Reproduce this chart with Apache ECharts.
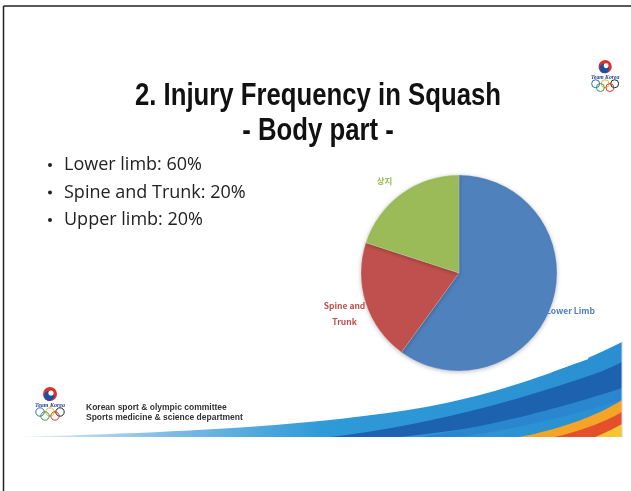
<!DOCTYPE html>
<html>
<head>
<meta charset="utf-8">
<script src="https://cdn.jsdelivr.net/npm/echarts@6/dist/echarts.min.js"></script>
<style>
html,body{margin:0;padding:0;background:#fff;}
#c{width:631px;height:491px;}
</style>
</head>
<body>
<div id="c"></div>
<script>
// ---- data ----
const categories = ['Lower Limb', 'Spine and\nTrunk', '상지'];
const values = [60, 20, 20];
const titleLines = ['2. Injury Frequency in Squash', '- Body part -'];
const bullets = ['Lower limb: 60%', 'Spine and Trunk: 20%', 'Upper limb: 20%'];
const footerLines = ['Korean sport & olympic committee', 'Sports medicine & science department'];

// ---- styles ----
const sliceColors = ['#4F81BD', '#C0504D', '#9BBB59'];
const labelOffsets = [[-1, 3], [-2, 6], [-3, -1]];

const chart = echarts.init(document.getElementById('c'));

// sample a simple "M x,y C ... L ... Z" path into polygon points
function pathPoints(d) {
  const tok = d.replace(/([MCLZ])/g, ' $1 ').replace(/,/g, ' ').trim().split(/\s+/);
  const pts = [];
  let i = 0, cmd = null, cx = 0, cy = 0;
  while (i < tok.length) {
    const t = tok[i];
    if (/^[MCLZ]$/.test(t)) { cmd = t; i++; if (t === 'Z') break; continue; }
    if (cmd === 'M' || cmd === 'L') {
      cx = +tok[i]; cy = +tok[i + 1]; pts.push([cx, cy]); i += 2;
    } else if (cmd === 'C') {
      const x1 = +tok[i], y1 = +tok[i + 1], x2 = +tok[i + 2], y2 = +tok[i + 3], x3 = +tok[i + 4], y3 = +tok[i + 5];
      for (let k = 1; k <= 24; k++) {
        const s = k / 24, u = 1 - s;
        pts.push([u*u*u*cx + 3*u*u*s*x1 + 3*u*s*s*x2 + s*s*s*x3, u*u*u*cy + 3*u*u*s*y1 + 3*u*s*s*y2 + s*s*s*y3]);
      }
      cx = x3; cy = y3; i += 6;
    } else { i++; }
  }
  return pts;
}
function shape(d, style) { return {type:'polygon', shape:{points: pathPoints(d)}, style: style, silent:true}; }

function logo(x, y, s) {
  const ringCols = ['#2a6fc0', '#f2b822', '#222', '#3a9b45', '#d63a2e'];
  const els = [];
  els.push({type:'circle', shape:{cx:x+17*s, cy:y+7*s, r:7*s}, style:{fill:'#d8322f'}});
  els.push({type:'circle', shape:{cx:x+16*s, cy:y+9*s, r:5*s}, style:{fill:'#1f4fa0'}});
  els.push({type:'circle', shape:{cx:x+18*s, cy:y+6*s, r:2.6*s}, style:{fill:'#fff'}});
  els.push({type:'text', style:{x:x+17*s, y:y+18*s, text:'Team Korea', fill:'#1f3f8f', font:'italic bold '+(6*s)+'px "Liberation Serif"', align:'center', verticalAlign:'middle'}});
  const rx = [x+7*s, x+17*s, x+27*s, x+12*s, x+22*s];
  const ry = [y+25*s, y+25*s, y+25*s, y+29*s, y+29*s];
  for (let i = 0; i < 5; i++) {
    els.push({type:'circle', shape:{cx:rx[i], cy:ry[i], r:4.2*s}, style:{fill:'none', stroke:ringCols[i], lineWidth:1}});
  }
  return els;
}

const titleFont = 'bold 31px "Liberation Sans", Arial, sans-serif';
const graphic = [
  // frame
  {type:'line', shape:{x1:3.5, y1:6, x2:631, y2:6}, style:{stroke:'#222', lineWidth:1.5}},
  {type:'line', shape:{x1:3.5, y1:6, x2:3.5, y2:491}, style:{stroke:'#222', lineWidth:1.5}},
  // title (narrowed)
  {type:'text', x:318, y:96, scaleX:0.83, style:{x:0, y:0, text:titleLines[0], fill:'#111', font:titleFont, align:'center', verticalAlign:'middle'}},
  {type:'text', x:318, y:131, scaleX:0.83, style:{x:0, y:0, text:titleLines[1], fill:'#111', font:titleFont, align:'center', verticalAlign:'middle'}},
  // bottom band
  shape('M20,437 C150,433 300,428 420,408 C500,394 570,368 622,342 L622,437 Z',
   {fill:new echarts.graphic.LinearGradient(0,0,1,0,[{offset:0,color:'#e3eef6'},{offset:0.25,color:'#7dbbe4'},{offset:0.5,color:'#2f9ad8'},{offset:1,color:'#2a8fd2'}])}),
  shape('M330,437 C430,425 520,400 600,372 C610,368 618,364 622,362 L622,398 C560,414 470,430 400,437 Z', {fill:'#1c62ae'}),
  shape('M420,437 C500,424 560,408 622,388 L622,400 C570,416 510,430 460,437 Z', {fill:'#2a86cf'}),
  {type:'polyline', shape:{points: pathPoints('M468,392 C510,384 550,372 588,358')}, style:{stroke:'#ffffff', lineWidth:2, fill:'none'}},
  shape('M520,437 C565,428 600,414 622,400 L622,437 Z', {fill:'#f5a428'}),
  shape('M555,437 C585,430 608,420 622,412 L622,437 Z', {fill:'#e4502b'}),
  shape('M595,437 C605,433 615,428 622,424 L622,437 Z', {fill:'#f7c531'}),
  {type:'line', shape:{x1:622, y1:342, x2:622, y2:437}, style:{stroke:'#cfd8df', lineWidth:1}},
  // footer text
  {type:'text', style:{x:86, y:408, text:footerLines[0], fill:'#333', font:'bold 8.5px "Liberation Sans", Arial, sans-serif', verticalAlign:'middle'}},
  {type:'text', style:{x:86, y:418, text:footerLines[1], fill:'#333', font:'bold 8.5px "Liberation Sans", Arial, sans-serif', verticalAlign:'middle'}}
].concat(logo(33, 387, 1)).concat(logo(589, 60, 0.95));

// bullets
bullets.forEach(function (b, i) {
  const y = 165 + i * 27.5;
  graphic.push({type:'circle', shape:{cx:50, cy:y, r:2}, style:{fill:'#222'}});
  graphic.push({type:'text', style:{x:64, y:y, text:b, fill:'#222', font:'18px "Open Sans", sans-serif', verticalAlign:'middle'}});
});

chart.setOption({
  animation: false,
  backgroundColor: '#fff',
  graphic: graphic,
  series: [{
    type: 'pie',
    center: [459, 273],
    radius: 98,
    startAngle: 90,
    clockwise: true,
    z: 5,
    data: categories.map(function (c, i) {
      return {name: c, value: values[i], itemStyle: {color: sliceColors[i]}, label: {color: sliceColors[i]}};
    }),
    itemStyle: {borderColor: 'rgba(255,255,255,0.4)', borderWidth: 0.5, shadowBlur: 4, shadowColor: 'rgba(0,0,0,0.25)', shadowOffsetY: 1},
    label: {
      show: true,
      position: 'outside',
      formatter: '{b}',
      fontSize: 8.5,
      fontWeight: 'bold',
      lineHeight: 16,
      overflow: 'none',
      fontFamily: '"Noto Sans CJK KR", "Noto Sans", sans-serif',
      alignTo: 'none',
      distanceToLabelLine: 5
    },
    labelLine: {show: false, length: 15, length2: 0},
    labelLayout: function (p) {
      const o = labelOffsets[p.dataIndex];
      return {align: 'center', dx: o[0], dy: o[1]};
    }
  }]
});
</script>
</body>
</html>
